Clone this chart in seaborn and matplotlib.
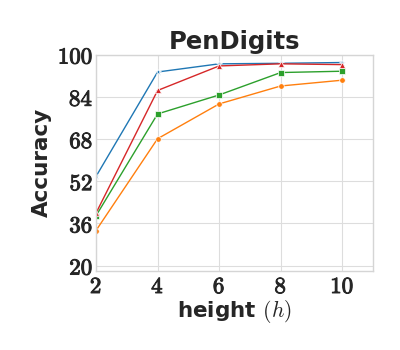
import matplotlib
matplotlib.use("Agg")
import matplotlib.pyplot as plt
import matplotlib.patheffects as pe
import seaborn as sns
import pandas as pd

heights = [2, 4, 6, 8, 10]
acc_blue = [53.8, 93.4, 96.5, 96.7, 97.0]
acc_red = [39.9, 86.4, 95.7, 96.5, 96.2]
acc_green = [38.9, 77.5, 84.7, 93.2, 93.7]
acc_orange = [33.3, 68.1, 81.3, 88.1, 90.3]
yticks = [20, 36, 52, 68, 84, 100]
xticks = [2, 4, 6, 8, 10]

series = [("A", acc_blue, "#1f77b4", "*"),
          ("B", acc_orange, "#ff7f0e", "o"),
          ("C", acc_green, "#2ca02c", "s"),
          ("D", acc_red, "#d62728", "^")]

rows = []
for name, vals, c, m in series:
    for h, v in zip(heights, vals):
        rows.append({"h": h, "acc": v, "s": name})
df = pd.DataFrame(rows)

sns.set_theme(style="whitegrid")
plt.rcParams["mathtext.fontset"] = "cm"
plt.rcParams["font.family"] = ["DejaVu Sans"]

fig = plt.figure(figsize=(4, 3.5), dpi=100)
ax = fig.add_axes([0.24, 0.226, 0.6925, 0.618])

for name, vals, c, m in series:
    sub = df[df["s"] == name]
    sns.lineplot(data=sub, x="h", y="acc", ax=ax, color=c, marker=m,
                 markersize=5 if m == "*" else 4, linewidth=1,
                 markeredgewidth=0.5, legend=False)

ax.set_xlim(2, 11)
ax.set_ylim(18, 100)
ax.set_xticks(xticks)
ax.set_yticks(yticks)
ax.set_xticklabels([r"$\mathbf{%d}$" % t for t in xticks], fontsize=16.5)
ax.set_yticklabels([r"$\mathbf{%d}$" % t for t in yticks], fontsize=16.5)
ax.tick_params(axis="x", pad=3, length=0)
ax.tick_params(axis="y", pad=2, length=0)
thick = [pe.withStroke(linewidth=0.7, foreground="#262626")]
for lab in ax.get_xticklabels() + ax.get_yticklabels():
    lab.set_path_effects(thick)
ax.set_xlabel(r"height $(h)$", fontsize=15.5, fontweight="bold", labelpad=0)
ax.set_ylabel("Accuracy", fontsize=15.5, fontweight="bold", labelpad=4)
ax.set_title("PenDigits", fontsize=17.5, fontweight="bold", pad=4)
for sp in ax.spines.values():
    sp.set_color("#d5d5d5")
    sp.set_linewidth(1)
ax.grid(color="#dddddd", linewidth=0.8)

fig.savefig("out.png", dpi=100)
